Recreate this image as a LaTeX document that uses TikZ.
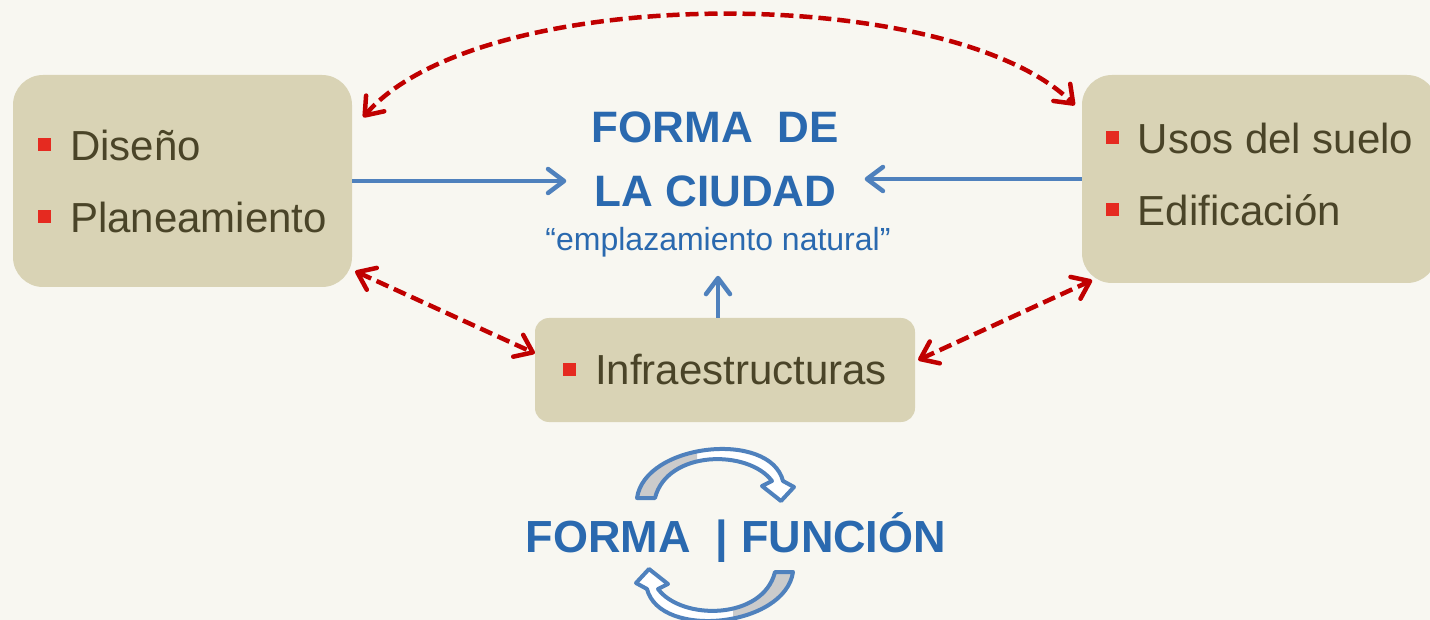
\documentclass[tikz,border=0pt]{standalone}
\usepackage{fontspec}
\setmainfont{Liberation Sans}
\usetikzlibrary{arrows.meta}

\definecolor{fondo}{HTML}{F8F7F1}
\definecolor{cajacol}{HTML}{D9D3B5}
\definecolor{textocol}{HTML}{4A4428}
\definecolor{rojocuadro}{HTML}{E52A20}
\definecolor{rojoflecha}{HTML}{C00000}
\definecolor{azulflecha}{HTML}{4F81BD}
\definecolor{azultexto}{HTML}{2A69AF}
\definecolor{grisgiro}{HTML}{CBCBCB}

\newcommand\cuadro{\textcolor{rojocuadro}{\rule[9pt]{13pt}{13pt}}\hspace{19pt}}
% banda del giro, con su punta
\def\bandagiro{(637,498) .. controls (645,443) and (770,430) .. (783,481) -- (794,487) -- (781,501) -- (762,486) -- (772,481) .. controls (748,449) and (667,450) .. (655,498) -- cycle}

\tikzset{
  caja/.style={fill=cajacol, rounded corners=30pt, text=textocol, align=left,
    font=\fontsize{42}{72}\selectfont},
  flechaazul/.style={draw=azulflecha, line width=4.5pt,
    -{Straight Barb[length=16pt,width=24pt,round]}},
  flecharoja/.style={draw=rojoflecha, line width=4.5pt, dash pattern=on 13pt off 6pt,
    {Straight Barb[length=16pt,width=24pt,round]}-{Straight Barb[length=16pt,width=24pt,round]}},
  titulo/.style={text=azultexto, font=\fontsize{44}{64}\selectfont\bfseries,
    anchor=base, inner sep=0pt},
  subtitulo/.style={text=azultexto, font=\fontsize{32}{36}\selectfont,
    anchor=base, inner xsep=0pt, inner ysep=18pt},
  pics/giro/.style={code={
    % fondo blanco
    \fill[white] \bandagiro;
    % parte gris a la izquierda
    \begin{scope}
      \clip (600,430) rectangle (697,510);
      \fill[grisgiro] \bandagiro;
    \end{scope}
    % contorno
    \draw[azulflecha, line width=4pt, line join=round] \bandagiro;
  }}
}

\begin{document}
\begin{tikzpicture}[x=1pt,y=-1pt]
% marco y fondo
\clip (0,0) rectangle (1430,620);
\fill[fondo] (0,0) rectangle (1430,620);
% caja izquierda, diseno y planeamiento
\node[caja, minimum width=339pt, minimum height=212pt] (plan) at (182.5,181) {\cuadro Diseño\\\cuadro Planeamiento};
% caja derecha, usos y edificacion
\node[caja, text depth=10pt, minimum width=355pt, minimum height=208pt] (usos) at (1259.5,179) {\cuadro Usos del suelo\\\cuadro Edificación};
% caja de abajo, infraestructuras
\node[caja, rounded corners=14pt, minimum width=380pt, minimum height=104pt] (infra) at (725,370) {\cuadro Infraestructuras};
% titulo al centro
\node[titulo] (forma1) at (715,143) {FORMA\ \ DE};
\node[titulo, inner xsep=28pt] (forma2) at (715.5,207) {LA CIUDAD};
\node[subtitulo] (emplaz) at (718,251) {“emplazamiento natural”};
% flechas azules hacia el titulo
\draw[flechaazul] (plan.east) -- (plan.east -| forma2.west);
\draw[flechaazul] (usos.west) -- (usos.west -| forma2.east);
\draw[flechaazul] (infra.north -| emplaz.south) -- (emplaz.south);
% flecha roja de arriba, entre las dos cajas
\draw[flecharoja] ([shift={(11,-2)}]plan.20) .. controls +(117,-135) and +(-125,-123) .. ([shift={(-7,-2)}]usos.158);
% flechas rojas hacia infraestructuras
\draw[flecharoja] ([xshift=3pt]plan.-28) -- (infra.175);
\draw[flecharoja] ([xshift=3pt]infra.3) -- ([shift={(6,-3)}]usos.211);
% lema de abajo con los dos giros
\node[titulo, font=\fontsize{45}{64}\selectfont\bfseries] (lema) at (736,552) {FORMA\ \ | FUNCIÓN};
\pic at (0,0) {giro};
\pic[rotate=180] at (1430,1070) {giro};
\end{tikzpicture}
\end{document}
